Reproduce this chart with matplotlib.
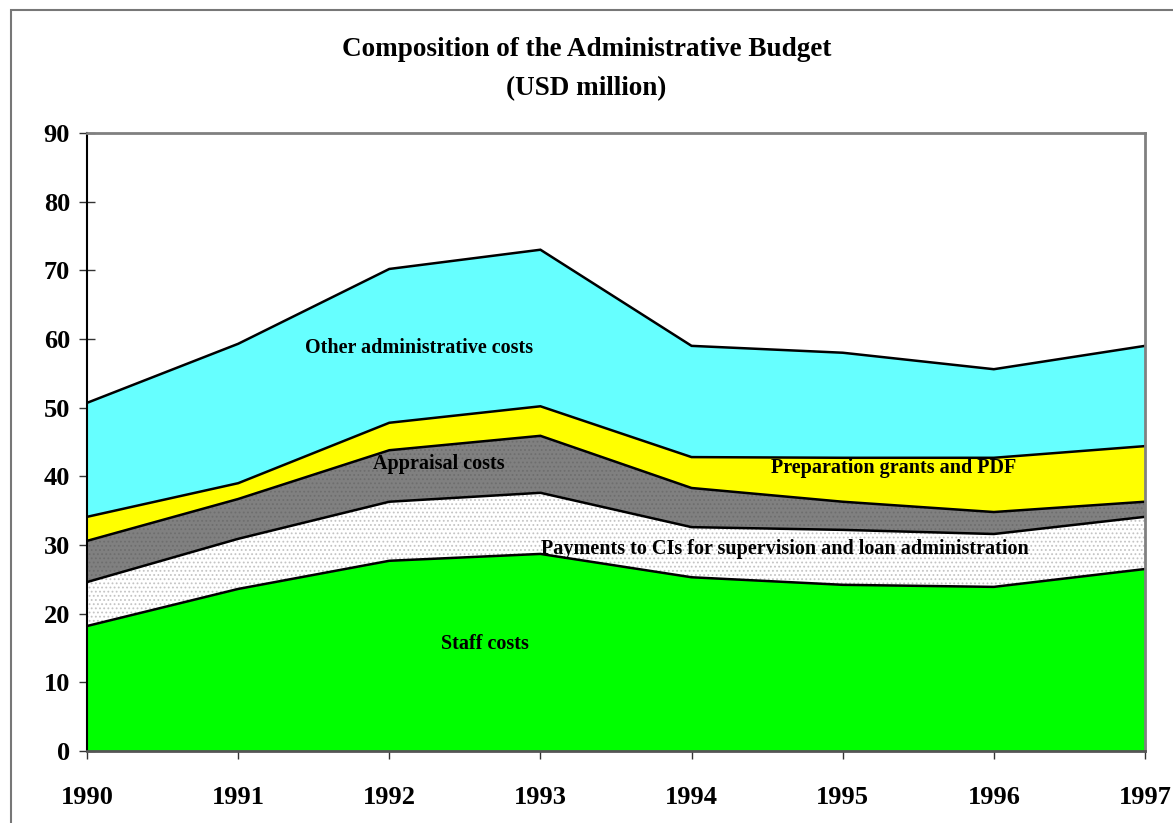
import matplotlib
matplotlib.use("Agg")
import matplotlib.pyplot as plt
import numpy as np
from matplotlib.patches import Rectangle

plt.rcParams["font.family"] = ["Liberation Serif", "DejaVu Serif"]
plt.rcParams["font.weight"] = "bold"
plt.rcParams["hatch.linewidth"] = 0.8

years = [1990, 1991, 1992, 1993, 1994, 1995, 1996, 1997]
staff = [18.2, 23.6, 27.7, 28.7, 25.3, 24.2, 23.9, 26.5]
payments = [6.4, 7.3, 8.6, 8.9, 7.3, 8.0, 7.7, 7.6]
appraisal = [6.0, 5.8, 7.5, 8.3, 5.7, 4.1, 3.2, 2.2]
preparation = [3.5, 2.3, 4.0, 4.3, 4.5, 6.4, 7.9, 8.1]
other = [16.6, 20.3, 22.4, 22.8, 16.2, 15.3, 12.9, 14.6]

# (values, face, hatch, hatch colour)
layers = [
    (staff, "#00ff00", None, "#00ff00"),
    (payments, "#ffffff", "....", "#c4c4c4"),
    (appraisal, "#808080", "....", "#6e6e6e"),
    (preparation, "#ffff00", None, "#ffff00"),
    (other, "#66ffff", None, "#66ffff"),
]

labels = [
    ("Other administrative costs", 1992.2, 58.7),
    ("Appraisal costs", 1992.33, 41.8),
    ("Preparation grants and PDF", 1995.34, 41.2),
    ("Payments to CIs for supervision and loan administration", 1994.62, 29.4),
    ("Staff costs", 1992.63, 15.6),
]

fig = plt.figure(figsize=(11.73, 8.23), dpi=100)
fig.patch.set_facecolor("white")
ax = fig.add_axes([0.0742, 0.0875, 0.9019, 0.7509])

x = np.array(years, dtype=float)
base = np.zeros(len(years))
for vals, face, hatch, hcol in layers:
    top = base + np.array(vals)
    ax.fill_between(x, base, top, facecolor=face, edgecolor=hcol,
                    hatch=hatch, linewidth=0, zorder=2)
    base = top
# black outlines along every boundary
base = np.zeros(len(years))
for vals, *_ in layers:
    base = base + np.array(vals)
    ax.plot(x, base, color="black", lw=1.8, zorder=3, solid_joinstyle="miter")

for text, lx, ly in labels:
    ax.text(lx, ly, text, ha="center", va="center", fontsize=14.5,
            fontweight="bold", color="black", zorder=4)

ax.set_xlim(1990, 1997)
ax.set_ylim(0, 90)
ax.set_xticks(years)
ax.set_yticks(range(0, 91, 10))
ax.tick_params(axis="y", direction="inout", length=11.5, width=1,
               color="#333333", pad=6.5, labelsize=19)
ax.tick_params(axis="x", direction="inout", length=12, width=1,
               color="#333333", pad=19, labelsize=19)
for lab in ax.get_xticklabels() + ax.get_yticklabels():
    lab.set_fontweight("bold")

ax.spines["left"].set_color("black")
ax.spines["left"].set_linewidth(1.5)
ax.spines["bottom"].set_color("#555555")
ax.spines["bottom"].set_linewidth(2)
ax.spines["top"].set_color("#808080")
ax.spines["top"].set_linewidth(2)
ax.spines["right"].set_color("#808080")
ax.spines["right"].set_linewidth(2)
for s in ax.spines.values():
    s.set_zorder(5)

fig.text(0.5, 1 - 49 / 823, "Composition of the Administrative Budget",
         ha="center", va="center", fontsize=19.5, fontweight="bold")
fig.text(0.5, 1 - 89 / 823, "(USD million)",
         ha="center", va="center", fontsize=19.5, fontweight="bold")

# outer chart frame (runs off the right and bottom edges)
fig.patches.append(Rectangle((11 / 1173, -0.1), 1.2, 1.1 - 10 / 823,
                             transform=fig.transFigure, fill=False,
                             edgecolor="#777777", linewidth=1.5))

fig.savefig("out.png", dpi=100, facecolor="white")
